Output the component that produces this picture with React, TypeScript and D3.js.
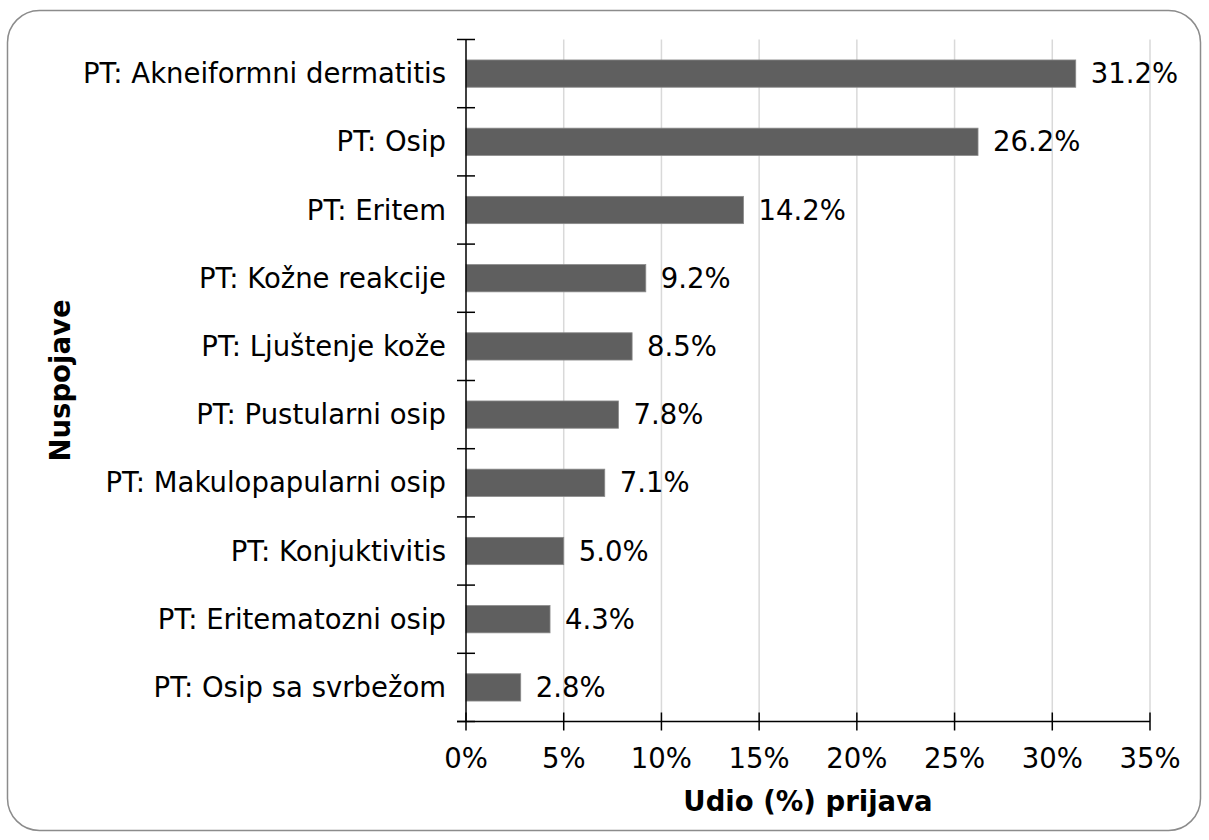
import React, { useEffect, useRef } from 'react';
import * as d3 from 'd3';

const categories = [
  'PT: Akneiformni dermatitis',
  'PT: Osip',
  'PT: Eritem',
  'PT: Kožne reakcije',
  'PT: Ljuštenje kože',
  'PT: Pustularni osip',
  'PT: Makulopapularni osip',
  'PT: Konjuktivitis',
  'PT: Eritematozni osip',
  'PT: Osip sa svrbežom',
];
const shares = [31.2, 26.2, 14.2, 9.2, 8.5, 7.8, 7.1, 5.0, 4.3, 2.8];
const xTicks = [0, 5, 10, 15, 20, 25, 30, 35];

export default function App() {
  const svgRef = useRef<SVGSVGElement>(null);

  useEffect(() => {
    if (!svgRef.current) return;
    const svg = d3.select(svgRef.current);
    svg.selectAll('*').remove();

    const width = 1209;
    const height = 840;
    const margin = { top: 39.5, right: 59, bottom: 118.5, left: 466 };
    const font = 'DejaVu Sans, Verdana, sans-serif';
    const fs = 27.5;

    svg.attr('width', width).attr('height', height).style('font-family', font);

    // rounded frame
    svg.append('rect')
      .attr('x', 7.5).attr('y', 10.5)
      .attr('width', 1193).attr('height', 820)
      .attr('rx', 32).attr('ry', 32)
      .attr('fill', 'white')
      .attr('stroke', '#8c8c8c')
      .attr('stroke-width', 1.5);

    const x = d3.scaleLinear().domain([0, 35]).range([margin.left, width - margin.right]);
    const y = d3.scaleBand().domain(categories).range([margin.top, height - margin.bottom]).paddingInner(0.6).paddingOuter(0.3);
    const band = d3.scaleBand().domain(categories).range([margin.top, height - margin.bottom]);

    // grid
    svg.append('g')
      .selectAll('line')
      .data(xTicks.slice(1))
      .join('line')
      .attr('x1', d => x(d)).attr('x2', d => x(d))
      .attr('y1', margin.top).attr('y2', height - margin.bottom)
      .attr('stroke', '#d9d9d9')
      .attr('stroke-width', 1.5);

    // bars
    svg.append('g')
      .selectAll('rect')
      .data(shares)
      .join('rect')
      .attr('x', x(0))
      .attr('y', (_, i) => y(categories[i])!)
      .attr('width', d => x(d) - x(0))
      .attr('height', y.bandwidth())
      .attr('fill', '#5f5f5f')
      .attr('stroke', '#8a8a8a')
      .attr('stroke-width', 0.8);

    // value labels
    svg.append('g')
      .selectAll('text')
      .data(shares)
      .join('text')
      .attr('x', d => x(d) + 15)
      .attr('y', (_, i) => y(categories[i])! + y.bandwidth() / 2)
      .attr('dy', '0.35em')
      .attr('font-size', fs)
      .attr('fill', '#000')
      .text(d => d.toFixed(1) + '%');

    // y axis
    const yAxisG = svg.append('g');
    yAxisG.append('line')
      .attr('x1', x(0)).attr('x2', x(0))
      .attr('y1', margin.top).attr('y2', height - margin.bottom)
      .attr('stroke', '#000').attr('stroke-width', 1.5);
    const bounds = categories.map(c => band(c)!).concat([height - margin.bottom]);
    yAxisG.selectAll('line.tick')
      .data(bounds)
      .join('line')
      .attr('class', 'tick')
      .attr('x1', x(0) - 9).attr('x2', x(0) + 9)
      .attr('y1', d => d).attr('y2', d => d)
      .attr('stroke', '#000').attr('stroke-width', 1.5);
    yAxisG.selectAll('text')
      .data(categories)
      .join('text')
      .attr('x', x(0) - 20)
      .attr('y', d => band(d)! + band.bandwidth() / 2)
      .attr('dy', '0.35em')
      .attr('text-anchor', 'end')
      .attr('font-size', fs)
      .attr('fill', '#000')
      .text(d => d);

    // x axis
    const xAxisG = svg.append('g');
    const base = height - margin.bottom;
    xAxisG.append('line')
      .attr('x1', x(0) - 9).attr('x2', x(35))
      .attr('y1', base).attr('y2', base)
      .attr('stroke', '#000').attr('stroke-width', 1.5);
    xAxisG.selectAll('line.tick')
      .data(xTicks)
      .join('line')
      .attr('class', 'tick')
      .attr('x1', d => x(d)).attr('x2', d => x(d))
      .attr('y1', base - 9).attr('y2', base + 9)
      .attr('stroke', '#000').attr('stroke-width', 1.5);
    xAxisG.selectAll('text')
      .data(xTicks)
      .join('text')
      .attr('x', d => x(d))
      .attr('y', base + 37)
      .attr('dy', '0.35em')
      .attr('text-anchor', 'middle')
      .attr('font-size', fs)
      .attr('fill', '#000')
      .text(d => d + '%');

    // axis titles
    svg.append('text')
      .attr('x', (x(0) + x(35)) / 2)
      .attr('y', 801)
      .attr('dy', '0.35em')
      .attr('text-anchor', 'middle')
      .attr('font-size', fs)
      .attr('font-weight', 'bold')
      .text('Udio (%) prijava');

    svg.append('text')
      .attr('transform', `translate(60,${(margin.top + base) / 2}) rotate(-90)`)
      .attr('dy', '0.35em')
      .attr('text-anchor', 'middle')
      .attr('font-size', fs)
      .attr('font-weight', 'bold')
      .text('Nuspojave');
  }, []);

  return (
    <div style={{ position: 'absolute', left: 0, top: 0 }}>
      <svg ref={svgRef} style={{ display: 'block' }} />
    </div>
  );
}
